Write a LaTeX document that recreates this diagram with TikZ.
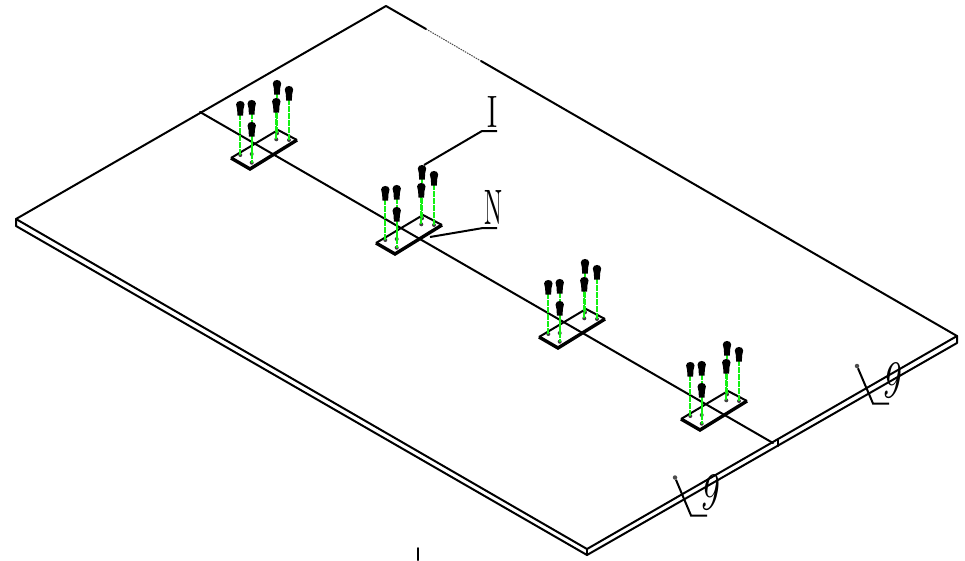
\documentclass[tikz,border=0pt]{standalone}
\usepackage{graphicx}
\definecolor{pingreen}{RGB}{20,240,20}
\tikzset{
  x=1pt,y=-1pt,
  edge/.style={line width=2pt,black,line cap=round,line join=round},
  thinedge/.style={line width=1pt,black!70,dash pattern=on 1.5pt off 1pt},
  leader/.style={line width=2pt,black},
  plateback/.style={line width=2pt,black,line join=miter},
  platefront/.style={line width=3.4pt,black,line join=miter},
  pindash/.style={line width=2.1pt,draw=pingreen,dash pattern=on 3pt off .5pt},
  holemark/.style={fill=black!75,draw=none},
  tall/.style={inner sep=0pt,outer sep=0pt},
  dotend/.style={circle,fill=black!70,inner sep=0pt,minimum size=4.5pt}
}
\newcommand{\scrw}[3]{%
  \fill[holemark] (#1,#2) circle (2pt);
  \draw[pindash] (#1,#2) -- (#1,#3+12);
  \fill[black] (#1-4.2,#3+3.5) .. controls (#1-4.2,#3-1.2) and (#1+4.2,#3-1.2) .. (#1+4.2,#3+3.5)
     .. controls (#1+4.2,#3+5.5) and (#1+3.4,#3+6.5) .. (#1+3.2,#3+8) -- (#1+2.8,#3+14.5) -- (#1-2.8,#3+14.5)
     -- (#1-3.2,#3+8) .. controls (#1-3.4,#3+6.5) and (#1-4.2,#3+5.5) .. (#1-4.2,#3+3.5) -- cycle;
}
\tikzset{pics/fixing/.style={code={
  \draw[plateback] (0,0) -- (47,-28) -- (66,-18);
  \draw[platefront] (0,0) -- (19,11) -- (66,-18);
  \scrw{46}{-24.7}{-78}
  \scrw{58}{-18}{-72}
  \scrw{45.3}{-18.7}{-60}
  \scrw{20.7}{-4}{-58}
  \scrw{9.3}{-3}{-57}
  \scrw{20.7}{4.7}{-36}
}}}
\begin{document}
\begin{tikzpicture}
\useasboundingbox (0,0) rectangle (965,560);
\coordinate (back) at (386,6);
\coordinate (dotA) at (426,29);
\coordinate (dotB) at (481,61);
\coordinate (right) at (957,336);
\coordinate (rightL) at (957,343);
\coordinate (front) at (587,549);
\coordinate (frontL) at (587,555);
\coordinate (left) at (16,219);
\coordinate (leftL) at (16,226);
\coordinate (midA) at (200,112);
\coordinate (midB) at (773,443);
\coordinate (tickA) at (778,440);
\coordinate (tickB) at (778,446);
\coordinate (cutA) at (418,548);
\coordinate (cutB) at (418,560);
% slab
\draw[edge] (dotB) -- (right) -- (front) -- (left) -- (back) -- (dotA);
\draw[thinedge] (dotA) -- (dotB);
\draw[edge] (left) -- (leftL) -- (frontL) -- (rightL) -- (right);
\draw[edge] (front) -- (frontL);
\draw[edge] (midA) -- (midB);
\draw[edge] (tickA) -- (tickB);
\draw[edge] (cutA) -- (cutB);
% fixings
\pic at (231,158) {fixing};
\pic at (376,243) {fixing};
\pic at (539,337) {fixing};
\pic at (681,419) {fixing};
% labels
\node[tall] (labI) at (492,112) {\resizebox{10pt}{31pt}{I}};
\node[tall] (labN) at (493.5,207) {\resizebox{18pt}{34pt}{N}};
\node[tall] (labA) at (890,381) {\resizebox{18pt}{35pt}{\itshape 9}};
\node[tall] (labB) at (708,493) {\resizebox{18pt}{35pt}{\itshape 9}};
\coordinate (iA) at (424,165); \coordinate (iB) at (482,131); \coordinate (iC) at (497,131);
\coordinate (nA) at (430,237); \coordinate (nB) at (483,228); \coordinate (nC) at (497,228);
\draw[leader] (iA) -- (iB) -- (iC);
\draw[leader] (nA) -- (nB) -- (nC);
\node[dotend] (ra) at (857,366) {};
\node[dotend] (rb) at (675,477.5) {};
\coordinate (raB) at (873,403.5); \coordinate (raC) at (889,403.5);
\coordinate (rbB) at (691,515.5); \coordinate (rbC) at (707,515.5);
\draw[leader] (ra) -- (raB) -- (raC);
\draw[leader] (rb) -- (rbB) -- (rbC);
\end{tikzpicture}
\end{document}
